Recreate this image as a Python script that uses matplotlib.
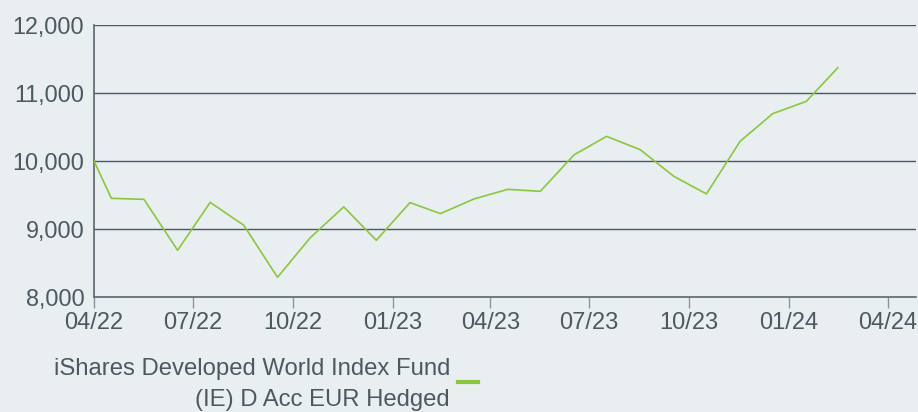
import matplotlib
matplotlib.use("Agg")
import matplotlib.pyplot as plt
import matplotlib.dates as mdates
from matplotlib.lines import Line2D
from matplotlib.ticker import FuncFormatter
import pandas as pd

plt.rcParams['font.family'] = ['Liberation Sans', 'DejaVu Sans']

dates = ["2022-04-01", "2022-04-17", "2022-05-17", "2022-06-17", "2022-07-17", "2022-08-17",
         "2022-09-17", "2022-10-17", "2022-11-17", "2022-12-17", "2023-01-17", "2023-02-14",
         "2023-03-17", "2023-04-17", "2023-05-17", "2023-06-17", "2023-07-17", "2023-08-17",
         "2023-09-17", "2023-10-17", "2023-11-17", "2023-12-17", "2024-01-17", "2024-02-15"]
values = [10000, 9451, 9436, 8687, 9392, 9054, 8290, 8869, 9325, 8834, 9388, 9226,
          9442, 9583, 9554, 10089, 10362, 10167, 9774, 9516, 10289, 10696, 10877, 11372]
series_label = "iShares Developed World Index Fund\n(IE) D Acc EUR Hedged"
tick_dates = ["2022-04-01", "2022-07-01", "2022-10-01", "2023-01-01", "2023-04-01",
              "2023-07-01", "2023-10-01", "2024-01-01", "2024-04-01"]
y_ticks = [8000, 9000, 10000, 11000, 12000]

bg = "#e9eef1"
txt = "#4b5961"
grid = "#4a5865"
green = "#8cc63f"

fig = plt.figure(figsize=(9.18, 4.12), dpi=100, facecolor=bg)
ax = fig.add_axes([94/918, 1 - 297/412, (916-94)/918, (297-25)/412], facecolor=bg)

x = pd.to_datetime(dates)
ax.plot(x, values, color=green, lw=1.2, zorder=3)

ax.set_xlim(pd.Timestamp("2022-04-01"), pd.Timestamp("2024-04-27"))
ax.set_ylim(8000, 12000)
ax.set_yticks(y_ticks)
ax.yaxis.set_major_formatter(FuncFormatter(lambda v, p: f"{int(v):,}"))
ax.set_xticks(pd.to_datetime(tick_dates))
ax.xaxis.set_major_formatter(mdates.DateFormatter("%m/%y"))

for v in y_ticks[1:]:
    ax.axhline(v, color=grid, lw=1.0, zorder=1)

for s in ["top", "right"]:
    ax.spines[s].set_visible(False)
for s in ["left", "bottom"]:
    ax.spines[s].set_color("#5a6670")
    ax.spines[s].set_linewidth(1.2)

ax.tick_params(axis="y", length=0, pad=7, labelsize=16.8, labelcolor=txt)
ax.tick_params(axis="x", length=8, width=1, color="#8a949a", pad=3, labelsize=17, labelcolor=txt)

fig.text(450/918, 1 - 384.5/412, series_label, ha="right", va="center", multialignment="right",
         fontsize=17.2, color=txt, linespacing=1.55)
fig.add_artist(Line2D([458/918, 478/918], [1 - 382/412, 1 - 382/412], color=green, lw=3,
                      transform=fig.transFigure))

fig.savefig("out.png", dpi=100, facecolor=bg)
